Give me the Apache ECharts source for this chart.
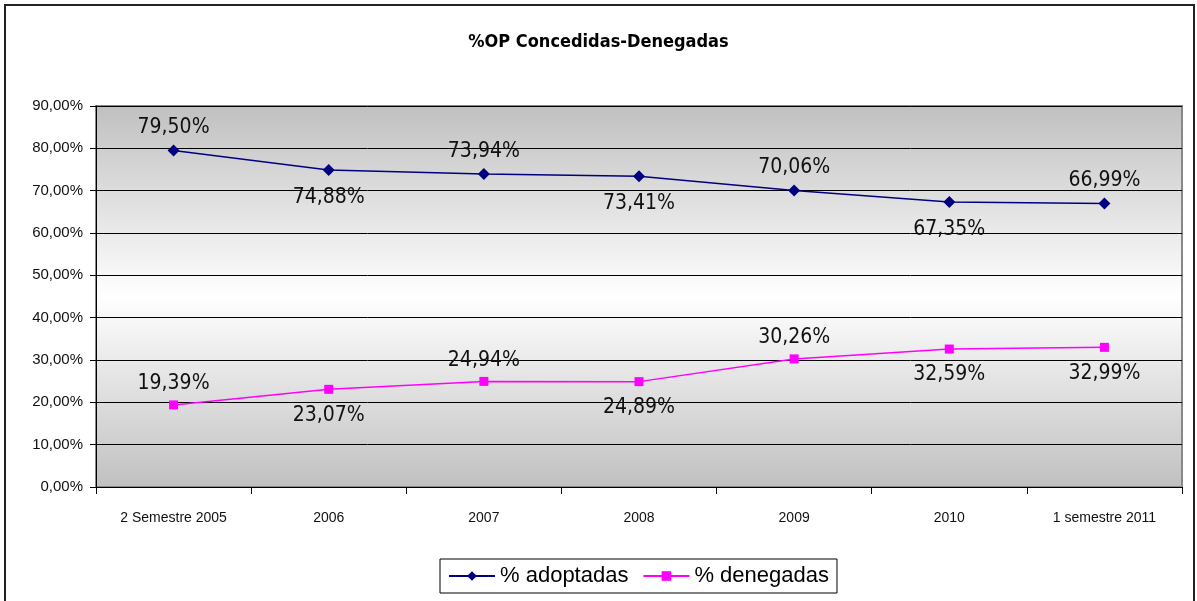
<!DOCTYPE html>
<html>
<head>
<meta charset="utf-8">
<title>%OP Concedidas-Denegadas</title>
<script src="https://cdn.jsdelivr.net/npm/echarts@6/dist/echarts.min.js"></script>
<style>
  html, body { margin: 0; padding: 0; background: #fff; }
  #main { width: 1197px; height: 601px; }
</style>
</head>
<body>
<div id="main"></div>
<script>
// datos del grafico
var categorias = ['2 Semestre 2005', '2006', '2007', '2008', '2009', '2010', '1 semestre 2011'];
var adoptadas = [79.50, 74.88, 73.94, 73.41, 70.06, 67.35, 66.99];
var denegadas = [19.39, 23.07, 24.94, 24.89, 30.26, 32.59, 32.99];

// posicion de etiquetas (arriba / abajo) como en el original
var posAdoptadas = ['top', 'bottom', 'top', 'bottom', 'top', 'bottom', 'top'];
var posDenegadas = ['top', 'bottom', 'top', 'bottom', 'top', 'bottom', 'bottom'];

var fuenteEstrecha = "'DejaVu Sans Condensed', 'Liberation Sans', sans-serif";

function pct(v) {
    return v.toFixed(2).replace('.', ',') + '%';
}

function conEtiquetas(valores, posiciones) {
    return valores.map(function (v, i) {
        var pos = posiciones[i];
        return { value: v, label: { position: pos, distance: pos == 'top' ? 6 : 11 } };
    });
}

var etiqueta = {
    show: true,
    fontFamily: fuenteEstrecha,
    fontSize: 21,
    color: '#111',
    formatter: function (p) { return pct(p.value); }
};

var myChart = echarts.init(document.getElementById('main'));

myChart.setOption({
    animation: false,
    title: {
        text: '%OP Concedidas-Denegadas',
        left: 'center',
        top: 28,
        textStyle: {
            fontFamily: fuenteEstrecha,
            fontWeight: 'bold',
            fontSize: 18,
            color: '#000'
        }
    },
    graphic: [{
        type: 'rect',
        shape: { x: 5, y: 5, width: 1189, height: 610 },
        style: { fill: 'none', stroke: '#222', lineWidth: 2 },
        silent: true,
        z: 100
    }],
    legend: {
        bottom: 8,
        left: 440,
        itemWidth: 46,
        itemHeight: 12,
        itemGap: 14,
        padding: [6, 8, 6, 8],
        borderColor: '#000',
        borderWidth: 1,
        backgroundColor: '#fff',
        textStyle: { fontFamily: 'Liberation Sans', fontSize: 22, color: '#000' },
        data: ['% adoptadas', '% denegadas']
    },
    grid: {
        left: 96,
        right: 15,
        top: 106,
        bottom: 114,
        show: true,
        borderColor: '#888',
        borderWidth: 2,
        backgroundColor: {
            type: 'linear', x: 0, y: 0, x2: 0, y2: 1,
            colorStops: [
                { offset: 0, color: '#c0c0c0' },
                { offset: 0.5, color: '#ffffff' },
                { offset: 1, color: '#c0c0c0' }
            ]
        }
    },
    xAxis: {
        type: 'category',
        data: categorias,
        boundaryGap: true,
        axisLine: { lineStyle: { color: '#000', width: 1 } },
        axisTick: { show: true, interval: 0, length: 7, lineStyle: { color: '#000' } },
        axisLabel: {
            interval: 0,
            margin: 24,
            fontFamily: 'Liberation Sans',
            fontSize: 14,
            color: '#111'
        }
    },
    yAxis: {
        type: 'value',
        min: 0,
        max: 90,
        interval: 10,
        axisLine: { show: true, lineStyle: { color: '#000', width: 1 } },
        axisTick: { show: true, length: 6, lineStyle: { color: '#000' } },
        splitLine: { show: true, lineStyle: { color: '#000', width: 1 } },
        axisLabel: {
            margin: 13,
            fontFamily: 'Liberation Sans',
            fontSize: 15,
            color: '#111',
            formatter: pct
        }
    },
    series: [
        {
            name: '% adoptadas',
            type: 'line',
            data: conEtiquetas(adoptadas, posAdoptadas),
            color: '#000080',
            lineStyle: { width: 1.5 },
            symbol: 'diamond',
            symbolSize: 12,
            label: etiqueta
        },
        {
            name: '% denegadas',
            type: 'line',
            data: conEtiquetas(denegadas, posDenegadas),
            color: '#ff00ff',
            lineStyle: { width: 1.5 },
            symbol: 'rect',
            symbolSize: 9,
            label: etiqueta
        }
    ]
});
</script>
</body>
</html>
